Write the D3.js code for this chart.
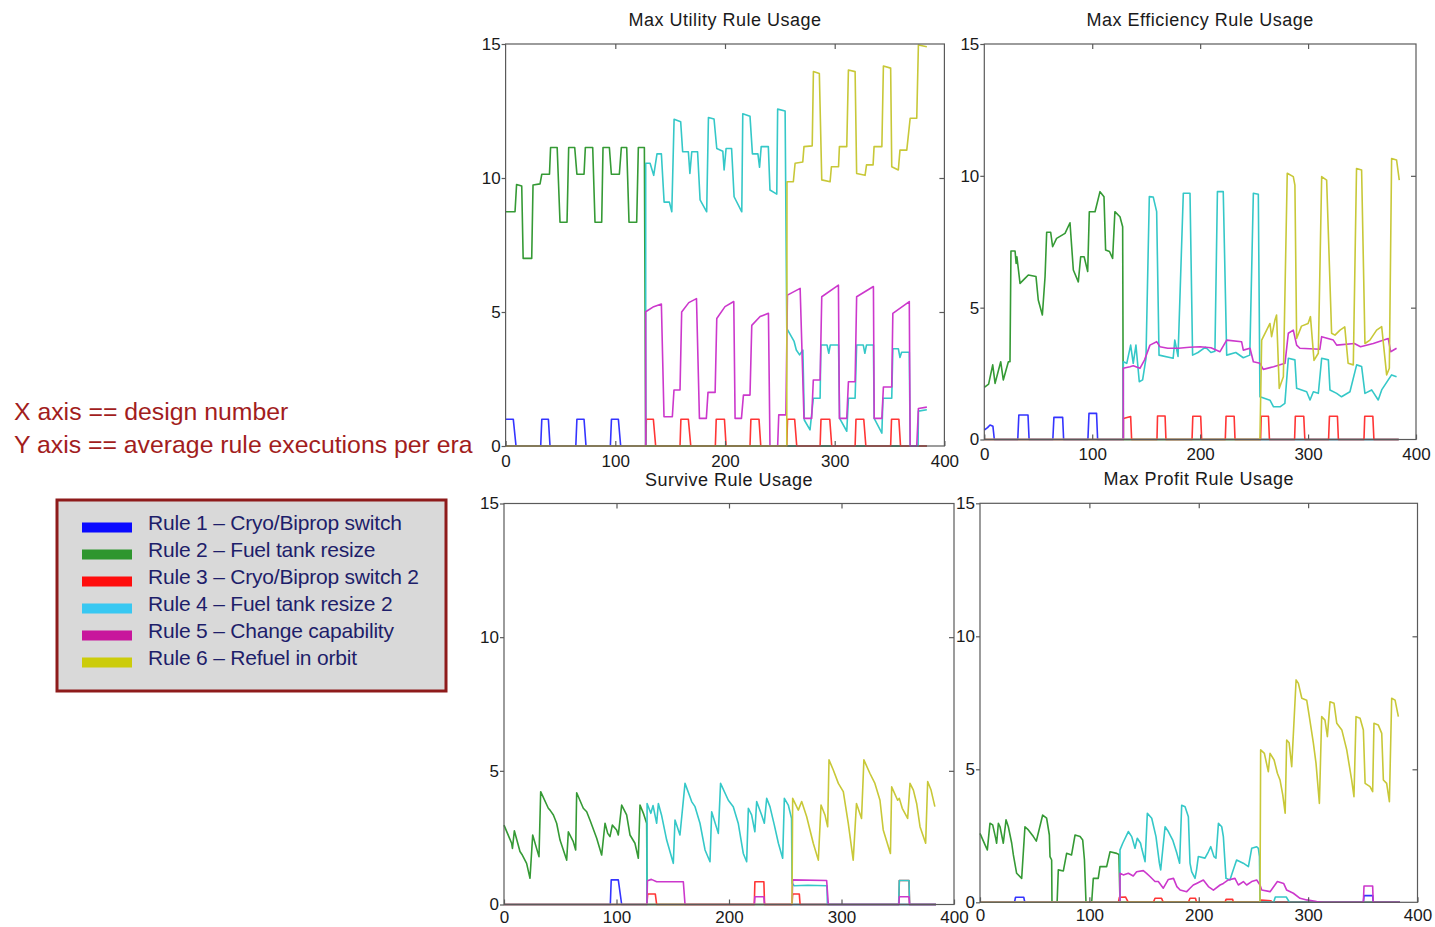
<!DOCTYPE html>
<html>
<head>
<meta charset="utf-8">
<script src="https://cdn.jsdelivr.net/npm/d3@7"></script>
<style>
  html, body { margin: 0; padding: 0; background: #ffffff; }
  svg { display: block; font-family: "Liberation Sans", Arial, sans-serif; }
</style>
</head>
<body>
<svg id="chart" width="1435" height="927"></svg>
<script>
// ---------------- DATA ----------------
const panelTitles = ["Max Utility Rule Usage", "Max Efficiency Rule Usage", "Survive Rule Usage", "Max Profit Rule Usage"];
const xTicks = [0, 100, 200, 300, 400];
const yTicks = [0, 5, 10, 15];
const ruleNames = ["Rule 1 \u2013 Cryo/Biprop switch", "Rule 2 \u2013 Fuel tank resize", "Rule 3 \u2013 Cryo/Biprop switch 2",
                   "Rule 4 \u2013 Fuel tank resize 2", "Rule 5 \u2013 Change capability", "Rule 6 \u2013 Refuel in orbit"];
const axisNotes = ["X axis == design number", "Y axis == average rule executions per era"];

// Max Utility
const utilBlue = [[0,1.0],[7,1.0],[9.5,0],[32,0],[33,1.0],[39,1.0],[40.5,0],[64,0],[65,1.0],[71.5,1.0],[73.3,0],[95.5,0],[96.5,1.0],[102.8,1.0],[104.9,0],[384,0]];
const utilGreen = [[0,8.74],[8.6,8.74],[10,9.76],[14.7,9.7],[16,7.0],[23.8,7.0],[25,9.74],[31.4,9.78],[33,10.14],[40,10.14],[41,11.14],[47,11.14],[49.6,8.35],[56,8.35],[57.5,11.14],[63,11.14],[65,10.14],[71.5,10.14],[72.7,11.14],[79.4,11.14],[81.5,8.35],[87.6,8.35],[88.8,11.14],[94.6,11.14],[96.4,10.14],[103.7,10.14],[105.5,11.14],[110.4,11.14],[112.5,8.35],[119.5,8.35],[121,11.14],[126.5,11.14],[127.7,0],[384,0]];
const utilRed = [[0,0],[127.7,0],[128.3,1.0],[134.7,1.0],[136.8,0],[159,0],[159.8,1.0],[166.6,1.0],[168.8,0],[191.2,0],[192,1.0],[199.5,1.0],[201,0],[222.8,0],[223.6,1.0],[231,1.0],[232.6,0],[256.3,0],[257,1.0],[263.5,1.0],[265.4,0],[286.7,0],[287.5,1.0],[295.5,1.0],[297.3,0],[318.6,0],[319.4,1.0],[326.5,1.0],[328.4,0],[351,0],[351.8,1.0],[358.5,1.0],[360,0],[384,0]];
const utilCyan = [[0,0],[127.7,0],[127.7,10.55],[131.7,10.55],[135,10.1],[138,10.9],[142,10.9],[144.5,9.1],[149.3,9.1],[151.5,8.74],[153.6,12.19],[159.6,12.1],[161.4,10.98],[166.6,10.98],[168,10.17],[169.7,10.98],[175,10.98],[177.3,9.18],[183.3,8.74],[184.9,12.26],[190,12.2],[192.5,11.1],[198,11.0],[199.2,10.3],[201,11.1],[206,11.1],[208.3,9.3],[215.3,8.74],[216.2,12.4],[222.8,12.3],[225,10.9],[230,10.9],[231.5,10.4],[233,11.17],[239.5,11.17],[241,9.55],[247.2,9.4],[248,12.57],[254.8,12.5],[256.3,4.39],[263,3.9],[265,3.58],[268,3.4],[271,3.58],[272.3,0.97],[277.5,0.6],[280.5,1.78],[286.7,1.78],[287.4,3.77],[293,3.77],[294.6,3.46],[296,3.77],[303.5,3.77],[304.5,1.03],[311,0.55],[312.5,1.78],[318.6,1.78],[320,3.77],[326,3.77],[327.5,3.46],[329,3.77],[335.3,3.77],[336,1.03],[343,0.48],[344,1.78],[352,1.78],[353,3.63],[358,3.63],[359.5,3.3],[361,3.5],[368,3.5],[368.8,0],[376,0],[376.3,1.3],[384,1.35]];
const utilMagenta = [[0,0],[127.7,0],[127.7,5.01],[135,5.2],[142,5.3],[144.4,1.09],[152,1.09],[153.5,2.09],[159,2.09],[160.5,5.0],[167,5.35],[174,5.5],[176.7,1.03],[183,1.03],[184.5,2.0],[191,2.0],[192.5,4.76],[200,5.2],[208,5.39],[209.2,1.03],[215,1.03],[216.8,1.9],[222.8,1.9],[224.4,4.5],[232,4.83],[239.6,4.95],[241,0],[248,0],[249,1.16],[255.5,1.16],[256.9,5.63],[268.5,5.88],[272,1.03],[279,1.03],[280.5,2.46],[286.7,2.46],[288.2,5.57],[303.4,6.0],[304.3,1.03],[311,1.03],[312.5,2.4],[318.6,2.4],[320,5.57],[335.3,5.95],[336,1.03],[343,1.03],[344.4,2.2],[352,2.2],[353,4.95],[368,5.39],[368.8,0],[374.8,0],[376.3,1.4],[384,1.45]];
const utilYellow = [[0,0],[256.3,0],[256.5,9.86],[262.3,9.86],[263.9,10.55],[270.9,10.6],[272,11.17],[279.5,11.2],[280.6,13.97],[286,13.9],[288.2,9.93],[295.8,9.86],[297,10.42],[303.5,10.42],[304.3,11.17],[311,11.17],[312.5,14.03],[318.6,13.97],[320,10.17],[327.7,10.1],[329,10.49],[335,10.49],[335.9,11.17],[343,11.17],[344.4,14.18],[351,14.1],[352,10.42],[358,10.3],[359.5,11.04],[365.7,11.04],[368.8,12.23],[374.8,12.23],[376.3,14.96],[384,14.9]];

// Max Efficiency
const effBlue = [[0,0.36],[3,0.45],[5.3,0.55],[8,0.5],[9.3,0],[31,0],[32,0.93],[40.5,0.93],[41.5,0],[63.5,0],[64.5,0.84],[72.6,0.84],[73.5,0],[96,0],[97,0.99],[104,0.99],[105,0],[384,0]];
const effGreen = [[0,1.98],[4,2.1],[7.8,2.83],[10,2.13],[15.2,2.95],[17.6,2.26],[22.3,2.95],[23.8,2.95],[24.7,7.15],[28.5,7.15],[29.5,6.68],[30.2,6.93],[33.1,5.92],[37.7,6.11],[40.8,6.24],[47.9,6.18],[50,5.29],[53.8,4.72],[56.3,6.18],[57.8,7.86],[61.5,7.86],[63.3,7.31],[67,7.63],[74.8,7.82],[79.4,8.22],[82.5,6.43],[87.1,5.98],[89.3,6.93],[92.5,6.93],[95.8,6.37],[97.3,8.64],[102.6,8.64],[107.2,9.4],[110.9,9.21],[112.4,7.19],[116,7.13],[118.9,6.87],[121,8.64],[125.7,8.45],[128.2,8.07],[128.8,0],[384,0]];
const effRed = [[0,0],[128.8,0],[128.9,0.8],[135.6,0.87],[136.5,0],[160,0],[160.5,0.89],[167.5,0.89],[168.3,0],[192.5,0],[193.2,0.88],[200.5,0.88],[201.4,0],[223.3,0],[224,0.88],[231.5,0.88],[232.3,0],[256,0],[256.6,0.88],[263.3,0.88],[264.2,0],[287.5,0],[288.2,0.88],[296,0.88],[297,0],[319,0],[319.8,0.88],[327.2,0.88],[328.1,0],[351.8,0],[352.5,0.88],[360,0.88],[361,0],[384,0]];
const effCyan = [[0,0],[128.8,0],[128.8,2.95],[132,2.89],[135.6,3.58],[138,2.89],[140.5,3.58],[143.6,2.19],[146.7,2.26],[149.8,3.08],[152.9,9.21],[156.5,9.2],[159.7,8.64],[161.9,3.2],[175,3.08],[176.5,3.77],[179.5,3.15],[184.4,9.34],[190.6,9.34],[193,3.2],[198,3.3],[205,3.5],[210,3.3],[213.7,3.35],[216,9.4],[221.4,9.4],[224.6,3.2],[233,3.3],[240,3.1],[246,3.2],[249.3,9.34],[253.9,9.3],[255.4,1.62],[264.7,1.49],[268,1.24],[274,1.24],[278.5,1.37],[281.7,3.08],[287.8,3.02],[289.4,1.94],[298.7,1.81],[301.8,1.5],[304.9,1.81],[309.5,1.75],[312.6,3.08],[318.8,3.02],[320.3,1.88],[326.5,1.75],[331,1.62],[338.8,1.81],[345,2.83],[349.6,2.77],[352.7,1.75],[358.9,1.88],[365,1.5],[368.2,1.88],[374.3,2.26],[377.4,2.45],[382,2.38]];
const effMagenta = [[0,0],[128.8,0],[128.8,2.7],[135,2.76],[138,2.8],[144.2,2.7],[148.5,3.02],[153.5,3.58],[159.7,3.71],[162.7,3.52],[170,3.46],[180,3.46],[190,3.5],[200,3.52],[210,3.48],[218.4,3.33],[224.6,3.77],[238.4,3.71],[240,3.39],[246.2,3.46],[249.3,2.95],[255.4,2.89],[258.5,2.66],[268,2.76],[278.6,2.89],[281.7,4.03],[286.3,4.15],[289.4,3.58],[292.4,3.46],[310.9,3.42],[312.6,3.9],[323.4,3.77],[326.5,3.58],[342.9,3.64],[348.6,3.52],[360.4,3.64],[374.3,3.83],[376.5,3.33],[382,3.46]];
const effYellow = [[0,0],[255.4,0],[257,3.77],[261.6,4.15],[264.7,4.4],[266.2,3.9],[269.3,4.53],[270.8,4.72],[273.3,1.94],[277.1,2.38],[280.7,10.1],[286.3,9.97],[287.8,9.65],[289.4,3.83],[293.9,4.3],[300,4.4],[302.2,4.66],[305.5,3.0],[309.5,3.27],[312.6,9.97],[317.2,9.84],[321.8,4.03],[324.9,3.96],[329.6,4.15],[334,4.27],[337.1,2.89],[341.9,2.83],[344.9,10.28],[349.6,10.22],[352.7,3.64],[357.3,3.77],[363.5,4.15],[368.2,4.28],[372.8,2.45],[375.3,2.7],[377.4,10.66],[382,10.6],[384.5,9.84]];

// Survive
const survBlue = [[0,0],[94.5,0],[95.3,0.92],[101.6,0.92],[104.6,0],[384,0]];
const survGreen = [[0,2.97],[6.8,2.29],[7.5,2.1],[9.2,2.76],[14.2,1.98],[16.3,1.85],[20.1,1.54],[23.1,0.98],[25.5,2.6],[31.1,1.79],[32.6,4.22],[39.4,3.6],[40.9,3.53],[43.9,3.35],[46.8,3.04],[49.8,2.41],[55.7,1.66],[57.2,2.72],[61.6,2.35],[63.7,2.04],[64.6,4.18],[70.5,3.6],[73.5,3.47],[76.4,3.16],[82.4,2.48],[86.8,1.85],[89.8,3.04],[92.2,2.66],[94.2,2.54],[96.3,2.97],[100.1,2.79],[101.6,2.6],[104.6,3.72],[109,3.35],[112,2.6],[116.4,2.29],[119.4,1.73],[120.9,3.72],[123.9,3.41],[126.8,3.04],[127.2,0],[384,0]];
const survRed = [[0,0],[127,0],[127.7,0.39],[134.5,0.39],[135.7,0],[222.5,0],[223,0.85],[231,0.85],[231.6,0],[256,0],[256.6,0.39],[262.5,0.39],[263.2,0],[351,0],[351.4,0.9],[360,0.9],[360.5,0],[384,0]];
const survCyan = [[0,0],[127,0],[127.2,3.78],[130.5,3.41],[132.5,3.7],[135.7,3.04],[137.2,3.78],[140,3.35],[144.6,2.41],[150.5,1.54],[152,3.16],[156.4,2.6],[160.9,4.53],[165.3,4.03],[166.8,3.85],[169.8,3.66],[174.2,3.04],[178.7,2.04],[183.1,1.6],[184.6,3.47],[190.5,2.66],[192.5,4.53],[199.4,3.9],[203.8,3.66],[208.2,3.04],[212.7,1.91],[215.7,1.6],[217.2,3.6],[220.1,3.35],[223,2.72],[224.6,3.85],[229,3.35],[231.4,3.04],[233.5,3.97],[236.4,3.66],[240.3,2.97],[243.9,2.29],[247.7,1.73],[249.2,3.97],[252.7,3.72],[255.6,3.22],[256,0.8],[258,0.7],[270,0.72],[287,0.7],[287.5,0],[350.8,0],[351.4,0.9],[360,0.9],[360.5,0],[384,0]];
const survMagenta = [[0,0],[127,0],[127.5,0.89],[131,0.94],[135.7,0.85],[159.4,0.85],[160.9,0],[222.5,0],[223,0.29],[231,0.29],[231.6,0],[256,0],[256.6,0.92],[286.8,0.9],[288.3,0],[351,0],[351.4,0.29],[360,0.29],[360.5,0],[384,0]];
const survYellow = [[0,0],[256,0],[256.6,3.97],[261.6,3.53],[264.6,3.85],[269,3.29],[274.9,2.29],[279.4,1.66],[281.8,3.72],[285.3,3.35],[287.7,2.91],[288.9,5.41],[292.7,5.03],[297.2,4.53],[301.6,4.22],[306,3.04],[310.4,1.66],[313.3,3.78],[317.8,3.22],[319.9,5.41],[325.2,4.91],[329.7,4.53],[334.2,3.9],[337.1,2.79],[343.5,1.91],[344.6,4.4],[349.9,3.9],[351.4,3.97],[354,3.6],[358.8,3.22],[360.9,4.53],[363.9,4.28],[366.8,3.78],[369.8,2.91],[374.8,2.29],[376.6,4.6],[379.6,4.28],[383,3.66]];

// Max Profit
const profBlue = [[0,0],[31.5,0],[32.5,0.19],[40,0.19],[41,0],[350.5,0],[351.1,0.25],[359,0.25],[359.5,0],[384,0]];
const profGreen = [[0,2.59],[4.6,2.16],[6.7,1.97],[9.1,2.97],[11.6,2.91],[14.3,2.41],[15.2,2.22],[16.8,2.97],[18.3,2.84],[21.3,2.22],[23.8,3.1],[25.9,2.84],[29,2.22],[30.5,1.78],[33.5,1.09],[38.1,0.9],[41.1,2.84],[44.2,2.72],[48.8,2.47],[51.5,2.3],[57.3,3.28],[60.9,3.16],[63.4,2.53],[64,1.72],[65.5,1.59],[65.8,0],[70.5,0],[71.6,1.22],[76.2,1.18],[79.2,1.84],[83.7,1.78],[86.9,2.53],[91.5,2.47],[93.9,2.34],[95.5,1.59],[96.9,0],[102.1,0],[103.6,0.9],[108.1,0.9],[109.7,1.34],[115.8,1.34],[118.9,1.9],[125,1.84],[127,1.8],[128,0],[384,0]];
const profRed = [[0,0],[126.5,0],[127.5,0.19],[133,0.2],[135.6,0],[158.5,0],[160,0.15],[166,0.15],[167.6,0],[190.5,0],[192,0.15],[197,0.15],[198,0],[224,0],[225,0.11],[231,0.11],[231.6,0],[256,0],[257,0.08],[266,0.06],[267,0],[384,0]];
const profCyan = [[0,0],[128,0],[128,1.97],[130.5,2.22],[135.6,2.66],[138.7,2.47],[141.7,2.03],[143.8,2.41],[146.8,2.22],[147.8,2.03],[150.9,1.53],[153,3.35],[157,3.16],[160.9,2.47],[164,1.47],[165.2,1.22],[169.2,2.84],[172.2,2.66],[176.2,2.34],[180,1.84],[182.5,1.47],[184.4,3.65],[187.5,3.59],[190.5,3.22],[192,1.47],[193.5,1.15],[196.6,0.9],[198,1.22],[199.6,1.72],[205.7,1.66],[208.8,1.9],[211,2.09],[213.9,1.72],[215.7,1.66],[218,2.97],[221,2.84],[222.5,2.47],[224.9,0.9],[228.5,0.84],[231.6,1.22],[234.6,1.59],[240.7,1.47],[245.4,1.34],[248.4,2.03],[253,2.09],[254.5,2.03],[255.5,1.72],[256,0],[268.5,0],[270,0.2],[280,0.2],[283,0],[384,0]];
const profMagenta = [[0,0],[128,0],[128,1.09],[131,1.03],[135.6,1.09],[140.1,0.99],[143.2,1.15],[149.3,1.19],[152.3,1.09],[155.4,0.97],[160,0.78],[163,0.78],[167.6,0.53],[172.2,0.86],[176.9,0.9],[180,0.59],[183,0.46],[189,0.4],[192,0.53],[195,0.65],[198,0.71],[204.2,0.84],[208.8,0.59],[213.4,0.46],[219.5,0.65],[222.5,0.71],[227,0.84],[233.1,0.9],[236.2,0.65],[240.8,0.78],[243.8,0.65],[248.4,0.78],[253,0.84],[256,0.65],[257.6,0.46],[265.2,0.4],[271.9,0.78],[277.6,0.71],[280.4,0.46],[286.5,0.34],[292.6,0.15],[298.7,0.09],[307.8,0.03],[313.9,0],[350.5,0],[351.1,0.61],[359,0.61],[359.5,0],[384,0]];
const profYellow = [[0,0],[256,0],[256.6,5.73],[260,5.6],[263.6,4.91],[265.2,5.6],[268.9,5.35],[271.9,4.85],[274.3,4.6],[276.8,4.04],[279,3.35],[280.4,6.1],[282.6,6.0],[285,5.1],[289,8.36],[291.1,8.23],[294.2,7.67],[298.7,7.6],[301.1,6.98],[304.8,5.98],[307.2,5.23],[310.3,3.72],[312.4,6.98],[315.4,6.85],[317.6,6.23],[320,7.54],[323.7,7.48],[326.2,6.73],[330.8,6.48],[335.3,5.73],[339.8,4.6],[341.9,3.97],[343.8,6.98],[347.5,6.92],[350.5,6.48],[352.1,4.47],[356.6,4.35],[359,4.16],[360.2,6.73],[364.1,6.67],[367.3,6.35],[368.8,4.6],[371.8,4.47],[374.3,3.78],[376.4,7.67],[379.5,7.6],[382.5,6.98]];

// ---------------- STYLE / LAYOUT ----------------
const lineColors = ["#3434ff", "#359a35", "#ff3535", "#35c8c8", "#cc38cc", "#c8c838"];
const swatchColors = ["#0a0aff", "#2e962e", "#ff0d0d", "#38c8f2", "#c8169c", "#cccc0a"];

const panels = [
  { title: panelTitles[0], series: [utilBlue, utilGreen, utilRed, utilCyan, utilMagenta, utilYellow], l: 505.6, r: 944.4, t: 44, b: 446, labelGap: 8.5 },
  { title: panelTitles[1], series: [effBlue, effGreen, effRed, effCyan, effMagenta, effYellow], l: 984.3, r: 1416, t: 44, b: 439.5, labelGap: 8.5 },
  { title: panelTitles[2], series: [survBlue, survGreen, survRed, survCyan, survMagenta, survYellow], l: 504, r: 954, t: 503.5, b: 904.5, labelGap: 6.5 },
  { title: panelTitles[3], series: [profBlue, profGreen, profRed, profCyan, profMagenta, profYellow], l: 980, r: 1417.5, t: 503.3, b: 902.3, labelGap: 6.5 }
];

const svg = d3.select("#chart");
svg.append("rect").attr("width", 1435).attr("height", 927).attr("fill", "#ffffff");

panels.forEach(p => {
  const x = d3.scaleLinear().domain([0, 400]).range([p.l, p.r]);
  const y = d3.scaleLinear().domain([0, 15]).range([p.b, p.t]);
  const g = svg.append("g");

  const line = d3.line().x(d => x(d[0])).y(d => y(d[1]));
  p.series.forEach((s, i) => {
    g.append("path").attr("d", line(s)).attr("fill", "none")
      .attr("stroke", lineColors[i]).attr("stroke-width", 1.6).attr("stroke-linejoin", "round");
  });

  // box
  g.append("rect").attr("x", p.l).attr("y", p.t).attr("width", p.r - p.l).attr("height", p.b - p.t)
    .attr("fill", "none").attr("stroke", "#5a5a5a").attr("stroke-width", 1.2);

  const styleAxis = sel => {
    sel.select(".domain").remove();
    sel.selectAll(".tick line").attr("stroke", "#5a5a5a").attr("stroke-width", 1.2);
    sel.selectAll(".tick text").attr("fill", "#1a1a1a").attr("font-size", 17)
      .attr("font-family", "'Liberation Sans', Arial, sans-serif");
  };

  g.append("g").attr("transform", `translate(0,${p.b})`)
    .call(d3.axisBottom(x).tickValues(xTicks).tickSizeInner(-5).tickSizeOuter(0).tickPadding(p.labelGap))
    .call(styleAxis);
  g.append("g").attr("transform", `translate(${p.l},0)`)
    .call(d3.axisLeft(y).tickValues(yTicks).tickSizeInner(4).tickSizeOuter(0).tickPadding(1))
    .call(styleAxis);
  g.append("g").attr("transform", `translate(0,${p.t})`)
    .call(d3.axisTop(x).tickValues(xTicks.slice(1, -1)).tickSizeInner(-5).tickSizeOuter(0).tickFormat(""))
    .call(styleAxis);
  g.append("g").attr("transform", `translate(${p.r},0)`)
    .call(d3.axisRight(y).tickValues(yTicks.slice(1, -1)).tickSizeInner(-5).tickSizeOuter(0).tickFormat(""))
    .call(styleAxis);

  g.append("text").attr("x", (p.l + p.r) / 2).attr("y", p.t - 18).attr("text-anchor", "middle")
    .attr("font-size", 18).attr("letter-spacing", 0.5).attr("fill", "#1a1a1a").text(p.title);
});

// axis notes
svg.selectAll("text.note").data(axisNotes).enter().append("text").attr("class", "note")
  .attr("x", 14).attr("y", (d, i) => 420 + i * 32.5)
  .attr("font-size", 24.8).attr("fill", "#a21d1d").text(d => d);

// legend
const lg = svg.append("g");
lg.append("rect").attr("x", 57).attr("y", 500).attr("width", 389).attr("height", 191)
  .attr("fill", "#d9d9d9").attr("stroke", "#8e1b1b").attr("stroke-width", 3);
ruleNames.forEach((name, i) => {
  lg.append("rect").attr("x", 82).attr("y", 522.5 + i * 27).attr("width", 50).attr("height", 10)
    .attr("fill", swatchColors[i]);
  lg.append("text").attr("x", 148).attr("y", 530 + i * 27).attr("font-size", 21)
    .attr("letter-spacing", -0.2).attr("fill", "#1e1e6a").text(name);
});
</script>
</body>
</html>
